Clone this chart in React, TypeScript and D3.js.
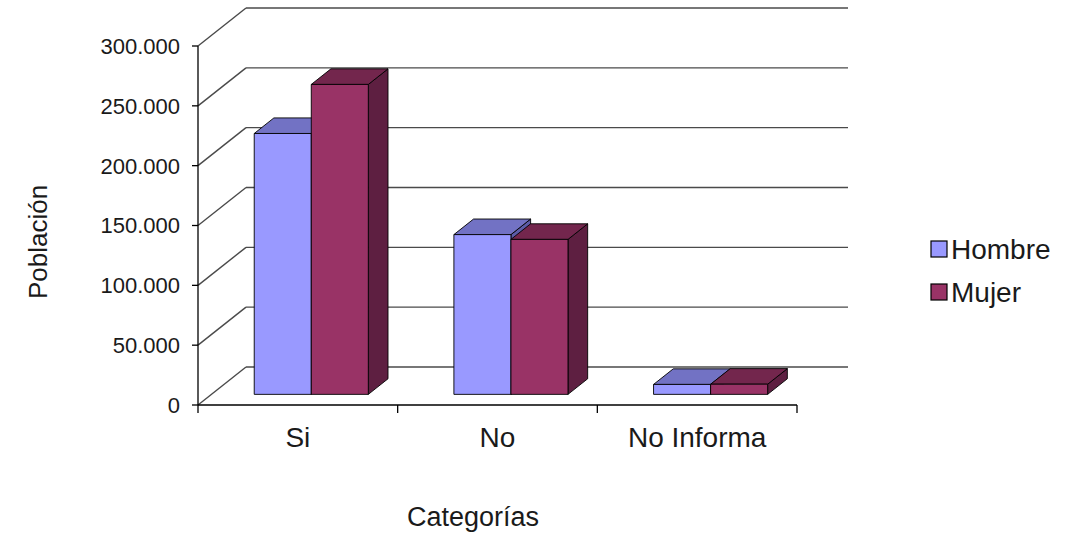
import React from "react";
import * as d3 from "d3";

// Population by answer category and sex
const categories = ["Si", "No", "No Informa"];
const series = ["Hombre", "Mujer"];
const hombre = [218000, 133500, 8300];
const mujer = [259000, 129500, 8500];
const yTicks = [0, 50000, 100000, 150000, 200000, 250000, 300000];

const W = 1068;
const H = 533;
const FONT = "'Liberation Sans', Arial, sans-serif";

// Front plane of the 3D plot and the depth vector to its back wall
const x0 = 198;
const x1 = 797;
const yBase = 405;
const yTopFront = 46;
const depth = { dx: 48, dy: -38 };
const wallRight = 848;
// Bars sit in the middle of the depth
const barZ0 = 0.28;
const barZ1 = 0.69;

const colors = {
  Hombre: { front: "#9999FF", top: "#7272C4", side: "#5C5CA8" },
  Mujer: { front: "#993366", top: "#73264D", side: "#5E1F41" },
};

const fmt = (v: number) => d3.format(",")(v).replace(/,/g, ".");

export default function App() {
  const y = d3.scaleLinear().domain([0, 300000]).range([yBase, yTopFront]);
  const xBand = d3.scaleBand<string>().domain(categories).range([x0, x1]);
  const bw = xBand.bandwidth();
  const barW = bw / 3.5; // gap width 150%
  const data = [hombre, mujer];

  const off = (z: number) => ({ dx: depth.dx * z, dy: depth.dy * z });
  const f = off(barZ0);
  const b = off(barZ1);
  const dd = { dx: b.dx - f.dx, dy: b.dy - f.dy };

  const bars: React.ReactNode[] = [];
  categories.forEach((cat, ci) => {
    series.forEach((s, si) => {
      const v = data[si][ci];
      const left = (xBand(cat) as number) + 0.75 * barW + si * barW + f.dx;
      const right = left + barW;
      const top = y(v) + f.dy;
      const bottom = y(0) + f.dy;
      const c = colors[s as keyof typeof colors];
      const pts = (arr: number[][]) => arr.map((p) => p.join(",")).join(" ");
      bars.push(
        <g key={cat + s} stroke="#000" strokeWidth={0.9} strokeLinejoin="round">
          <polygon
            points={pts([[right, top], [right + dd.dx, top + dd.dy], [right + dd.dx, bottom + dd.dy], [right, bottom]])}
            fill={c.side}
          />
          <polygon
            points={pts([[left, top], [left + dd.dx, top + dd.dy], [right + dd.dx, top + dd.dy], [right, top]])}
            fill={c.top}
          />
          <rect x={left} y={top} width={barW} height={bottom - top} fill={c.front} />
        </g>
      );
    });
  });

  return (
    <svg
      width={W}
      height={H}
      style={{ position: "absolute", left: 0, top: 0, background: "#fff" }}
      fontFamily={FONT}
    >
      {/* back wall gridlines and side wall diagonals */}
      <g stroke="#4a4a4a" strokeWidth={1.4} fill="none">
        {yTicks.map((t) => (
          <g key={t}>
            <line x1={x0 + depth.dx} x2={wallRight} y1={y(t) + depth.dy} y2={y(t) + depth.dy} />
            <line x1={x0} y1={y(t)} x2={x0 + depth.dx} y2={y(t) + depth.dy} />
          </g>
        ))}
      </g>

      {bars}

      {/* axes */}
      <g stroke="#000" strokeWidth={1.3}>
        <line x1={x0} x2={x0} y1={yBase} y2={yTopFront} />
        <line x1={x0} x2={x1} y1={yBase} y2={yBase} />
        {yTicks.map((t) => (
          <line key={t} x1={x0 - 6} x2={x0} y1={y(t)} y2={y(t)} />
        ))}
        {[...categories.map((c) => xBand(c) as number), x1].map((xx, i) => (
          <line key={i} x1={xx} x2={xx} y1={yBase} y2={yBase + 8} />
        ))}
      </g>

      <g fontSize={22} fill="#1a1a1a" textAnchor="end">
        {yTicks.map((t) => (
          <text key={t} x={180} y={y(t)} dy="0.36em">
            {fmt(t)}
          </text>
        ))}
      </g>

      <g fontSize={28} fill="#1a1a1a" textAnchor="middle">
        {categories.map((c) => (
          <text key={c} x={(xBand(c) as number) + bw / 2} y={447}>
            {c}
          </text>
        ))}
      </g>

      <text x={473} y={526} fontSize={27} fill="#1a1a1a" textAnchor="middle">
        Categorías
      </text>
      <text
        transform="translate(47,242) rotate(-90)"
        fontSize={26}
        fill="#1a1a1a"
        textAnchor="middle"
      >
        Población
      </text>

      {/* legend */}
      {series.map((s, i) => (
        <g key={s} transform={`translate(931, ${241 + i * 43})`}>
          <rect width={16} height={16} fill={colors[s as keyof typeof colors].front} stroke="#000" strokeWidth={1.2} />
          <text x={20} y={18} fontSize={28} fill="#1a1a1a">
            {s}
          </text>
        </g>
      ))}
    </svg>
  );
}
